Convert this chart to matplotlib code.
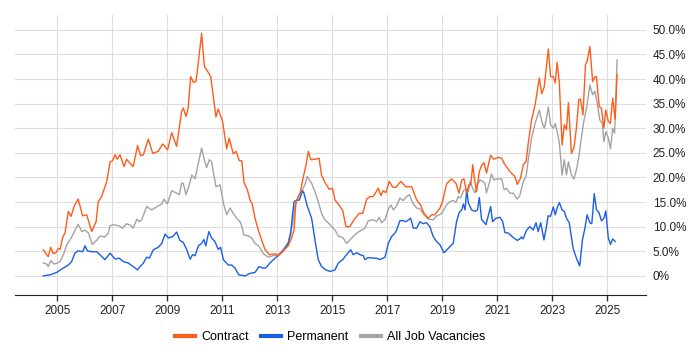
import matplotlib
matplotlib.use('Agg')
import matplotlib.pyplot as plt
from matplotlib.lines import Line2D

# Data (decimal year, percent of vacancies)
contract_x = [2004.49, 2004.67, 2004.76, 2004.85, 2004.95, 2005.04, 2005.10, 2005.20, 2005.28, 2005.40,
              2005.50, 2005.61, 2005.76, 2005.92, 2006.07, 2006.25, 2006.41, 2006.49, 2006.61, 2006.80,
              2006.92, 2007.01, 2007.10, 2007.18, 2007.28, 2007.43, 2007.52, 2007.64, 2007.76, 2007.92,
              2008.03, 2008.13, 2008.31, 2008.47, 2008.67, 2008.83, 2009.01, 2009.16, 2009.34, 2009.52,
              2009.58, 2009.68, 2009.76, 2009.85, 2009.95, 2010.04, 2010.09, 2010.25, 2010.35, 2010.43,
              2010.58, 2010.77, 2010.85, 2011.01, 2011.16, 2011.25, 2011.40, 2011.50, 2011.62, 2011.71,
              2011.79, 2011.91, 2012.01, 2012.09, 2012.19, 2012.31, 2012.43, 2012.55, 2012.71, 2012.92,
              2013.04, 2013.22, 2013.40, 2013.52, 2013.61, 2013.68, 2013.83, 2013.95, 2014.05, 2014.13,
              2014.22, 2014.37, 2014.52, 2014.61, 2014.73, 2014.89, 2015.01, 2015.10, 2015.22, 2015.38,
              2015.50, 2015.64, 2015.79, 2015.98, 2016.11, 2016.25, 2016.37, 2016.49, 2016.67, 2016.77,
              2016.85, 2016.95, 2017.07, 2017.20, 2017.32, 2017.49, 2017.68, 2017.89, 2018.07, 2018.19,
              2018.34, 2018.49, 2018.61, 2018.73, 2018.92, 2019.01, 2019.16, 2019.34, 2019.50, 2019.61,
              2019.71, 2019.79, 2019.89, 2019.97, 2020.04, 2020.11, 2020.16, 2020.25, 2020.35, 2020.43,
              2020.52, 2020.61, 2020.76, 2020.88, 2021.04, 2021.16, 2021.28, 2021.46, 2021.64, 2021.73,
              2021.85, 2021.95, 2022.05, 2022.13, 2022.25, 2022.38, 2022.53, 2022.62, 2022.71, 2022.86,
              2022.94, 2023.04, 2023.11, 2023.18, 2023.26, 2023.36, 2023.44, 2023.52, 2023.59, 2023.70,
              2023.79, 2023.88, 2023.97, 2024.03, 2024.12, 2024.21, 2024.27, 2024.37, 2024.47, 2024.55,
              2024.61, 2024.71, 2024.79, 2024.88, 2024.95, 2025.04, 2025.12, 2025.20, 2025.29, 2025.36]
contract_y = [5.3, 3.9, 5.8, 4.5, 4.7, 5.6, 5.4, 7.9, 8.7, 13.1,
              12.1, 14.1, 15.6, 12.2, 12.4, 9.0, 11.0, 15.1, 16.1, 19.2,
              23.2, 23.4, 24.6, 23.7, 24.6, 22.2, 23.7, 22.9, 22.2, 26.5,
              24.4, 24.6, 27.8, 24.9, 25.3, 26.8, 25.6, 29.1, 26.3, 33.4,
              34.1, 32.4, 34.1, 40.5, 39.3, 39.5, 41.5, 49.3, 42.5, 41.9,
              40.5, 32.3, 33.9, 31.4, 25.8, 28.0, 24.8, 25.3, 23.4, 23.4,
              19.0, 17.5, 15.4, 14.6, 11.7, 9.3, 7.3, 5.4, 4.3, 4.5,
              4.1, 5.1, 6.1, 7.7, 9.3, 15.1, 16.8, 20.2, 22.6, 25.3,
              23.6, 23.7, 23.9, 20.5, 19.0, 17.6, 17.8, 15.4, 14.6, 13.3,
              10.0, 10.0, 11.4, 12.7, 12.7, 15.6, 16.1, 16.1, 17.8, 16.3,
              17.3, 16.9, 19.2, 18.0, 18.0, 19.2, 18.1, 18.1, 15.4, 14.6,
              12.7, 11.7, 12.4, 12.4, 13.8, 15.1, 18.7, 19.7, 18.8, 16.8,
              19.5, 19.7, 16.9, 18.5, 18.5, 22.6, 20.2, 17.1, 21.2, 22.4,
              23.0, 20.9, 24.5, 23.7, 24.1, 23.9, 22.6, 21.2, 20.2, 18.6,
              19.9, 22.6, 23.2, 27.0, 31.7, 34.8, 40.2, 37.0, 38.4, 46.1,
              40.5, 40.5, 39.2, 43.4, 39.2, 26.6, 30.7, 29.7, 35.2, 24.9,
              26.0, 30.0, 35.9, 35.9, 32.7, 42.9, 43.6, 46.6, 39.5, 40.4,
              40.5, 34.4, 34.1, 30.0, 33.7, 31.4, 31.0, 36.1, 31.8, 40.9]

permanent_x = [2004.49, 2004.73, 2004.98, 2005.22, 2005.40, 2005.52, 2005.64, 2005.76, 2005.92, 2006.01,
               2006.09, 2006.25, 2006.43, 2006.55, 2006.73, 2006.92, 2007.10, 2007.25, 2007.40, 2007.58,
               2007.76, 2007.92, 2008.01, 2008.13, 2008.25, 2008.35, 2008.49, 2008.67, 2008.80, 2008.92,
               2009.04, 2009.20, 2009.34, 2009.46, 2009.58, 2009.71, 2009.83, 2009.92, 2010.01, 2010.13,
               2010.25, 2010.33, 2010.40, 2010.51, 2010.61, 2010.73, 2010.85, 2010.94, 2011.04, 2011.22,
               2011.34, 2011.46, 2011.60, 2011.83, 2012.01, 2012.19, 2012.34, 2012.46, 2012.58, 2012.73,
               2012.92, 2013.07, 2013.22, 2013.40, 2013.49, 2013.56, 2013.61, 2013.71, 2013.80, 2013.92,
               2013.97, 2014.09, 2014.25, 2014.37, 2014.49, 2014.61, 2014.77, 2014.92, 2015.10, 2015.22,
               2015.38, 2015.52, 2015.67, 2015.76, 2015.89, 2016.01, 2016.13, 2016.19, 2016.31, 2016.49,
               2016.61, 2016.73, 2016.92, 2017.04, 2017.16, 2017.28, 2017.34, 2017.46, 2017.58, 2017.68,
               2017.85, 2017.95, 2018.07, 2018.19, 2018.31, 2018.43, 2018.55, 2018.67, 2018.79, 2018.92,
               2019.06, 2019.22, 2019.40, 2019.52, 2019.62, 2019.71, 2019.77, 2019.83, 2019.89, 2019.95,
               2020.07, 2020.19, 2020.28, 2020.35, 2020.43, 2020.59, 2020.67, 2020.76, 2020.83, 2020.95,
               2021.10, 2021.20, 2021.28, 2021.40, 2021.56, 2021.73, 2021.82, 2021.88, 2021.94, 2022.07,
               2022.19, 2022.31, 2022.41, 2022.49, 2022.58, 2022.70, 2022.79, 2022.85, 2022.94, 2023.04,
               2023.11, 2023.18, 2023.26, 2023.36, 2023.44, 2023.52, 2023.62, 2023.76, 2023.88, 2024.00,
               2024.10, 2024.19, 2024.27, 2024.37, 2024.44, 2024.53, 2024.61, 2024.70, 2024.79, 2024.88,
               2024.95, 2025.04, 2025.12, 2025.20, 2025.29]
permanent_y = [0.0, 0.2, 0.7, 1.6, 2.2, 2.9, 4.6, 5.1, 4.9, 6.1,
               5.1, 4.9, 4.9, 4.3, 3.3, 4.6, 3.4, 3.6, 2.9, 2.6,
               1.9, 1.2, 1.9, 2.6, 3.8, 3.6, 5.3, 5.8, 6.6, 8.5,
               7.7, 8.0, 8.9, 7.2, 6.8, 5.3, 3.4, 4.3, 4.1, 6.1,
               6.6, 7.4, 6.1, 9.0, 7.7, 7.0, 5.4, 5.8, 3.3, 2.2,
               2.2, 1.6, 0.2, 0.0, 0.5, 0.7, 1.9, 1.6, 1.6, 2.6,
               3.6, 4.3, 5.1, 6.6, 8.7, 12.7, 15.1, 15.4, 15.4, 17.3,
               16.8, 14.2, 11.7, 7.3, 3.3, 1.9, 1.2, 0.9, 1.2, 2.6,
               3.3, 4.3, 5.3, 4.3, 4.7, 4.3, 4.1, 3.3, 3.7, 3.6,
               3.6, 3.3, 3.8, 6.6, 8.0, 8.7, 9.3, 11.2, 11.2, 11.0,
               11.7, 9.7, 9.7, 11.0, 10.6, 10.8, 10.0, 8.0, 7.0, 6.3,
               4.7, 5.6, 6.6, 11.0, 12.9, 13.4, 14.6, 13.4, 17.5, 14.8,
               13.4, 13.1, 13.4, 15.9, 11.5, 10.4, 12.1, 14.1, 11.0, 11.7,
               11.9, 11.0, 8.8, 8.7, 7.9, 7.2, 7.5, 7.9, 7.5, 9.3,
               10.0, 9.3, 10.8, 9.0, 10.8, 7.3, 10.0, 12.2, 12.1, 14.0,
               12.4, 13.8, 14.9, 13.4, 13.1, 11.7, 10.8, 5.6, 3.6, 2.0,
               7.3, 9.7, 12.4, 10.8, 10.6, 16.7, 13.4, 12.9, 11.2, 11.7,
               13.2, 7.7, 6.4, 7.5, 7.0]

all_jobs_x = [2004.49, 2004.62, 2004.67, 2004.76, 2004.88, 2005.00, 2005.10, 2005.22, 2005.34, 2005.46,
              2005.56, 2005.68, 2005.76, 2005.89, 2006.01, 2006.13, 2006.27, 2006.43, 2006.55, 2006.73,
              2006.85, 2006.92, 2007.04, 2007.22, 2007.38, 2007.52, 2007.68, 2007.76, 2007.89, 2007.98,
              2008.07, 2008.25, 2008.43, 2008.61, 2008.80, 2008.88, 2009.00, 2009.16, 2009.31, 2009.44,
              2009.52, 2009.58, 2009.68, 2009.80, 2009.89, 2010.01, 2010.09, 2010.25, 2010.33, 2010.43,
              2010.53, 2010.61, 2010.77, 2010.92, 2011.04, 2011.16, 2011.28, 2011.40, 2011.53, 2011.67,
              2011.79, 2011.95, 2012.07, 2012.19, 2012.34, 2012.49, 2012.67, 2012.85, 2013.04, 2013.22,
              2013.40, 2013.56, 2013.64, 2013.76, 2013.88, 2014.01, 2014.09, 2014.25, 2014.37, 2014.49,
              2014.61, 2014.73, 2014.92, 2015.10, 2015.22, 2015.40, 2015.52, 2015.71, 2015.89, 2016.07,
              2016.19, 2016.31, 2016.49, 2016.61, 2016.71, 2016.79, 2016.92, 2017.04, 2017.13, 2017.22,
              2017.34, 2017.46, 2017.58, 2017.70, 2017.80, 2017.95, 2018.07, 2018.19, 2018.34, 2018.49,
              2018.67, 2018.79, 2018.98, 2019.16, 2019.28, 2019.40, 2019.50, 2019.58, 2019.67, 2019.77,
              2019.87, 2019.95, 2020.01, 2020.11, 2020.19, 2020.28, 2020.37, 2020.47, 2020.55, 2020.61,
              2020.71, 2020.79, 2020.88, 2021.00, 2021.16, 2021.25, 2021.34, 2021.46, 2021.58, 2021.73,
              2021.82, 2021.95, 2022.05, 2022.13, 2022.25, 2022.38, 2022.53, 2022.62, 2022.71, 2022.77,
              2022.86, 2022.94, 2023.04, 2023.11, 2023.18, 2023.26, 2023.36, 2023.44, 2023.52, 2023.59,
              2023.70, 2023.79, 2023.88, 2023.97, 2024.06, 2024.15, 2024.25, 2024.37, 2024.47, 2024.55,
              2024.63, 2024.73, 2024.82, 2024.88, 2024.95, 2025.04, 2025.12, 2025.20, 2025.27, 2025.36]
all_jobs_y = [2.6, 2.4, 1.9, 3.1, 2.4, 2.6, 2.9, 4.3, 6.3, 7.3,
              8.3, 9.7, 10.5, 9.0, 9.3, 8.7, 6.4, 7.2, 8.1, 7.9,
              8.7, 10.2, 10.4, 10.2, 9.7, 10.6, 10.2, 9.7, 11.5, 11.0,
              11.4, 14.1, 13.4, 14.0, 14.6, 15.6, 14.6, 17.3, 16.9, 16.5,
              18.8, 18.8, 16.5, 18.5, 20.5, 19.7, 21.9, 26.0, 23.9, 22.0,
              23.6, 23.2, 18.1, 18.5, 14.8, 12.4, 13.8, 12.7, 11.7, 10.8,
              8.3, 8.1, 7.7, 6.6, 6.0, 4.5, 3.8, 4.1, 4.3, 5.4,
              6.8, 10.7, 14.1, 16.1, 17.1, 18.6, 20.2, 18.8, 17.1, 15.1,
              12.7, 11.4, 10.4, 9.3, 8.1, 7.7, 6.6, 7.7, 8.7, 9.3,
              9.7, 11.2, 11.4, 11.0, 11.9, 10.8, 11.4, 13.6, 14.4, 13.4,
              14.2, 15.8, 15.3, 16.1, 16.5, 14.6, 13.8, 13.6, 12.4, 11.5,
              11.4, 12.1, 12.7, 14.4, 15.1, 15.3, 14.9, 16.1, 15.8, 17.3,
              17.6, 17.1, 19.2, 17.8, 16.9, 18.5, 19.5, 19.2, 18.8, 16.9,
              18.8, 20.7, 19.5, 19.7, 19.7, 17.5, 17.8, 16.8, 16.8, 15.6,
              16.3, 19.2, 20.2, 23.6, 28.0, 31.0, 33.7, 31.4, 30.0, 31.4,
              34.3, 30.7, 30.0, 31.0, 29.3, 27.0, 20.5, 23.6, 20.5, 23.2,
              20.5, 19.7, 21.5, 24.2, 28.0, 31.4, 34.1, 38.8, 36.8, 37.5,
              35.4, 31.7, 31.0, 27.3, 29.3, 28.0, 25.8, 30.0, 29.0, 43.9]

year_ticks = list(range(2005, 2026, 2))
pct_ticks = list(range(0, 55, 5))
pct_labels = ['0%'] + [f'{p:.1f}%' for p in pct_ticks[1:]]

COR_CONTRACT = '#ff5c1a'
COR_PERMANENT = '#1a5ee6'
COR_ALL = '#a3a3a3'

plt.rcParams['font.family'] = ['Liberation Sans', 'DejaVu Sans']

fig = plt.figure(figsize=(7, 3.5), dpi=100)
ax = fig.add_axes([0.0214, 0.157, 0.9010, 0.800])

ax.plot(all_jobs_x, all_jobs_y, color=COR_ALL, linewidth=1.0)
ax.plot(permanent_x, permanent_y, color=COR_PERMANENT, linewidth=1.0)
ax.plot(contract_x, contract_y, color=COR_CONTRACT, linewidth=1.0)

ax.set_xlim(2003.46, 2026.4)
ax.set_ylim(-3.9, 53.0)

ax.set_xticks(year_ticks)
ax.set_xticklabels([str(a) for a in year_ticks], fontsize=8.5, color='#222222')
ax.tick_params(axis='x', length=4, width=1, color='#333333', pad=3)

ax.yaxis.tick_right()
ax.set_yticks(pct_ticks)
ax.set_yticklabels(pct_labels, fontsize=8.5, color='#222222')
ax.tick_params(axis='y', length=0, pad=5)

ax.grid(True, color='#dddddd', linewidth=0.8)
ax.set_axisbelow(True)
for lado in ['top', 'right', 'left']:
    ax.spines[lado].set_visible(False)
ax.spines['bottom'].set_color('#222222')

handles = [Line2D([0], [0], color=COR_CONTRACT, linewidth=3),
           Line2D([0], [0], color=COR_PERMANENT, linewidth=3),
           Line2D([0], [0], color=COR_ALL, linewidth=3)]
ax.legend(handles, ['Contract', 'Permanent', 'All Job Vacancies'],
          loc='upper center', bbox_to_anchor=(0.5, -0.09), ncol=3, frameon=False,
          fontsize=9, handlelength=1.6, handletextpad=0.5, columnspacing=1.0)

fig.savefig('out.png', dpi=100)
plt.close(fig)
